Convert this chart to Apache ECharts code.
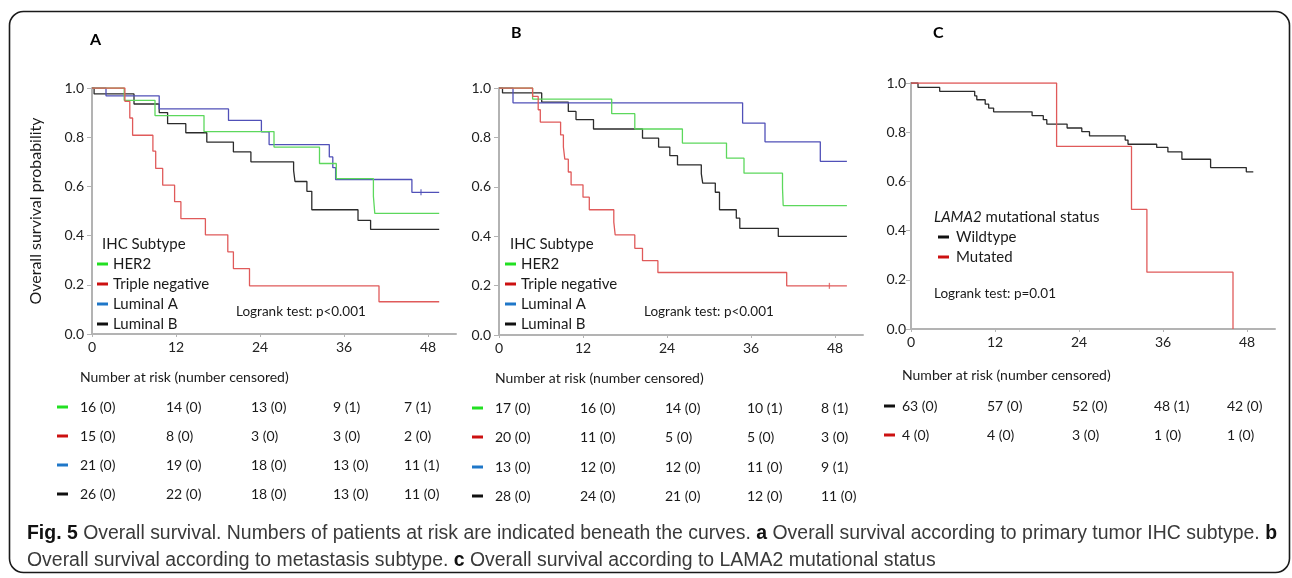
<!DOCTYPE html>
<html><head><meta charset="utf-8">
<script src="https://cdn.jsdelivr.net/npm/echarts@6/dist/echarts.min.js"></script>
<style>html,body{margin:0;padding:0;background:#fff}#c{width:1292px;height:578px}</style>
</head><body><div id="c"></div>
<script>
// ---------- DATA ----------
const tickMonths = [0, 12, 24, 36, 48];
// Panel A – primary tumor IHC subtype  [month, survival]
const aHER2 = [[0,1],[4.6,0.95],[9.0,0.888],[16.0,0.823],[26.0,0.76],[32.5,0.693],[34.9,0.632],[40.2,0.56],[40.4,0.49],[49.6,0.49]];
const aTripleNeg = [[0,1],[4.7,0.946],[5.4,0.878],[5.8,0.808],[8.7,0.743],[9.1,0.673],[10.1,0.605],[11.8,0.538],[12.7,0.469],[16.2,0.403],[19.4,0.334],[20.2,0.266],[22.5,0.196],[41.0,0.131],[49.6,0.131]];
const aLumA = [[0,1],[2.0,0.968],[9.6,0.915],[19.5,0.868],[24.2,0.822],[25.3,0.77],[33.9,0.72],[34.4,0.676],[34.8,0.628],[45.7,0.576],[49.6,0.576]];
const aLumB = [[0,1],[0.3,0.976],[6.0,0.935],[9.6,0.90],[10.8,0.855],[13.4,0.818],[16.4,0.78],[20.2,0.74],[22.7,0.70],[28.8,0.665],[29.0,0.62],[30.7,0.58],[31.4,0.505],[38.0,0.462],[39.8,0.425],[49.6,0.425]];
const aLumACensored = [[47.0,0.576]];
// Panel B – metastasis subtype
const bHER2 = [[0,1],[4.8,0.955],[16.1,0.896],[19.4,0.834],[26.2,0.777],[32.5,0.716],[35.0,0.655],[40.5,0.595],[40.6,0.524],[49.7,0.524]];
const bTripleNeg = [[0,1],[4.8,0.966],[5.6,0.912],[5.9,0.862],[8.8,0.81],[9.2,0.761],[9.4,0.712],[9.9,0.66],[10.3,0.608],[12.0,0.558],[12.9,0.507],[16.4,0.457],[16.6,0.405],[19.4,0.351],[20.5,0.301],[22.7,0.253],[41.1,0.199],[49.7,0.199]];
const bLumA = [[0,1],[2.0,0.94],[34.8,0.858],[38.0,0.782],[45.9,0.703],[49.7,0.703]];
const bLumB = [[0,1],[0.5,0.98],[6.1,0.943],[9.9,0.905],[11.0,0.872],[13.5,0.834],[20.5,0.797],[22.8,0.761],[24.4,0.726],[25.5,0.689],[28.9,0.653],[29.1,0.615],[30.9,0.578],[31.5,0.507],[33.9,0.473],[34.4,0.432],[39.9,0.399],[49.7,0.399]];
const bTripleNegCensored = [[47.2,0.199]];
// Panel C – LAMA2 mutational status
const cWildtype = [[0,1],[1.0,0.982],[4.1,0.966],[9.1,0.948],[9.4,0.932],[10.6,0.914],[11.1,0.898],[11.8,0.883],[17.3,0.867],[18.9,0.851],[19.4,0.833],[22.3,0.817],[24.4,0.802],[25.5,0.785],[30.6,0.768],[31.0,0.751],[35.1,0.738],[36.7,0.72],[38.7,0.69],[42.8,0.656],[47.9,0.639],[48.9,0.639]];
const cMutated = [[0,1],[20.8,0.742],[31.5,0.486],[33.7,0.231],[46.0,0]];

// Number at risk (number censored)
const riskA_HER2 = ['16 (0)','14 (0)','13 (0)','9 (1)','7 (1)'];
const riskA_TN   = ['15 (0)','8 (0)','3 (0)','3 (0)','2 (0)'];
const riskA_LumA = ['21 (0)','19 (0)','18 (0)','13 (0)','11 (1)'];
const riskA_LumB = ['26 (0)','22 (0)','18 (0)','13 (0)','11 (0)'];
const riskB_HER2 = ['17 (0)','16 (0)','14 (0)','10 (1)','8 (1)'];
const riskB_TN   = ['20 (0)','11 (0)','5 (0)','5 (0)','3 (0)'];
const riskB_LumA = ['13 (0)','12 (0)','12 (0)','11 (0)','9 (1)'];
const riskB_LumB = ['28 (0)','24 (0)','21 (0)','12 (0)','11 (0)'];
const riskC_Wild = ['63 (0)','57 (0)','52 (0)','48 (1)','42 (0)'];
const riskC_Mut  = ['4 (0)','4 (0)','3 (0)','1 (0)','1 (0)'];

const ihcLabels = ['HER2','Triple negative','Luminal A','Luminal B'];
const lamaLabels = ['Wildtype','Mutated'];

// ---------- STYLE ----------
const F = 'Lato, "Liberation Sans", sans-serif';
const curveCol = {g:'#5cd85c', r:'#e05a5a', b:'#5050b8', k:'#2b2b2b'};
const legCol = {g:'#22e022', r:'#cc1111', b:'#1f77c8', k:'#111111'};
const AX = '#b3b3b3';

const chart = echarts.init(document.getElementById('c'));

function xAx(i){ return {
  gridIndex:i, type:'value', min:0, max:52, interval:12,
  axisLine:{lineStyle:{color:AX,width:2}},
  axisTick:{show:true,length:3,lineStyle:{color:AX},customValues:tickMonths},
  axisLabel:{color:'#222',fontSize:14,fontFamily:F,margin:6,customValues:tickMonths},
  splitLine:{show:false}
};}
function yAx(i, extra){ return Object.assign({
  gridIndex:i, type:'value', min:0, max:1, interval:0.2,
  axisLine:{show:true,lineStyle:{color:AX,width:2}},
  axisTick:{show:true,length:5,lineStyle:{color:AX}},
  axisLabel:{color:'#222',fontSize:14,fontFamily:F,margin:8,formatter:v=>v.toFixed(1)},
  splitLine:{show:false}
}, extra||{});}
function km(i, data, color){ return {
  type:'line', step:'end', xAxisIndex:i, yAxisIndex:i, data:data, symbol:'none',
  lineStyle:{color:color,width:1.3}, silent:true, animation:false
};}
function cens(i, data, color){ return {
  type:'scatter', xAxisIndex:i, yAxisIndex:i, data:data, symbol:'rect', symbolSize:[1.3,6],
  itemStyle:{color:color}, silent:true, animation:false
};}

// ---------- GRAPHICS (legends, tables, labels, caption) ----------
const G = [];
function txt(x, y, text, opt){ G.push(Object.assign({type:'text', x:x, y:y, silent:true,
  style:Object.assign({text:text, fill:'#1a1a1a', font:'14px '+F, verticalAlign:'middle', align:'left'}, opt||{})})); }
function dash(x, y, color){ G.push({type:'rect', silent:true, shape:{x:x, y:y-1.5, width:11, height:3}, style:{fill:color}}); }

G.push({type:'rect', silent:true, shape:{x:9.5, y:11.5, width:1280, height:561, r:14}, style:{fill:'none', stroke:'#1a1a1a', lineWidth:1.6}});
txt(90, 40, 'A', {font:'bold 16px '+F, fill:'#000'});
txt(511, 33, 'B', {font:'bold 16px '+F, fill:'#000'});
txt(933, 33, 'C', {font:'bold 16px '+F, fill:'#000'});

// legends
const colKeys = ['g','r','b','k'];
txt(102, 244, 'IHC Subtype', {font:'15px '+F});
ihcLabels.forEach((l,k)=>{ dash(97, 264+k*20, legCol[colKeys[k]]); txt(113, 264+k*20, l, {font:'15px '+F}); });
txt(236, 312, 'Logrank test: p<0.001', {font:'13.5px '+F});
txt(510, 244, 'IHC Subtype', {font:'15px '+F});
ihcLabels.forEach((l,k)=>{ dash(505, 264+k*20, legCol[colKeys[k]]); txt(521, 264+k*20, l, {font:'15px '+F}); });
txt(644, 312, 'Logrank test: p<0.001', {font:'13.5px '+F});
txt(934, 217, '{i|LAMA2} mutational status', {font:'15px '+F, rich:{i:{font:'italic 15px '+F, fill:'#1a1a1a'}}});
dash(938, 237, legCol.k); txt(956, 237, lamaLabels[0], {font:'15px '+F});
dash(938, 257, legCol.r); txt(956, 257, lamaLabels[1], {font:'15px '+F});
txt(934, 294, 'Logrank test: p=0.01', {font:'13.5px '+F});

// risk tables
function table(x0, cols, dashX, headY, rowY, rows){
  txt(x0, headY, 'Number at risk (number censored)', {font:'14px '+F});
  rows.forEach((r,k)=>{
    dash(dashX, rowY[k], r[1]);
    r[0].forEach((v,j)=> txt(cols[j], rowY[k], v, {font:'14px '+F}));
  });
}
table(80, [80,166,251,333,404], 57, 377, [407,436,465,494],
  [[riskA_HER2,legCol.g],[riskA_TN,legCol.r],[riskA_LumA,legCol.b],[riskA_LumB,legCol.k]]);
table(495, [495,580,665,747,821], 472, 378, [408,437,467,496],
  [[riskB_HER2,legCol.g],[riskB_TN,legCol.r],[riskB_LumA,legCol.b],[riskB_LumB,legCol.k]]);
table(902, [902,987,1072,1154,1227], 884, 375, [406,435],
  [[riskC_Wild,legCol.k],[riskC_Mut,legCol.r]]);

// caption (fit to measured width, condensed via scaleX)
const capFont = '20px "Liberation Sans", sans-serif';
const capBold = 'bold 20px "Liberation Sans", sans-serif';
const cap1 = [['b','Fig. 5'],['n',' Overall survival. Numbers of patients at risk are indicated beneath the curves. '],['b','a'],['n',' Overall survival according to primary tumor IHC subtype. '],['b','b']];
const cap2 = [['n','Overall survival according to metastasis subtype. '],['b','c'],['n',' Overall survival according to LAMA2 mutational status']];
const ctx = document.createElement('canvas').getContext('2d');
function w(parts){ return parts.reduce((s,p)=>{ ctx.font = p[0]==='b'?capBold:capFont; return s+ctx.measureText(p[1]).width; },0); }
const sx = 1250 / w(cap1);
function capLine(parts, y){
  G.push({type:'text', x:27, y:y, scaleX:sx, silent:true, style:{
    text: parts.map(p=>p[0]==='b'?'{b|'+p[1]+'}':p[1]).join(''),
    font:capFont, fill:'#3a3a3a', verticalAlign:'middle', align:'left',
    rich:{b:{font:capBold, fill:'#111'}}
  }});
}
capLine(cap1, 533);
capLine(cap2, 560);

chart.setOption({
  animation:false,
  backgroundColor:'#fff',
  grid:[
    {left:92, top:88, width:364, height:246},
    {left:499, top:88, width:364, height:247},
    {left:911, top:83, width:364, height:246}
  ],
  xAxis:[xAx(0), xAx(1), xAx(2)],
  yAxis:[
    yAx(0,{name:'Overall survival probability', nameLocation:'middle', nameRotate:90, nameGap:48,
      nameTextStyle:{fontSize:16, fontFamily:F, color:'#1a1a1a'}}),
    yAx(1), yAx(2,{axisLabel:{color:'#222',fontSize:14,fontFamily:F,margin:5,formatter:v=>v.toFixed(1)}})
  ],
  series:[
    km(0,aLumB,curveCol.k), km(0,aLumA,curveCol.b), km(0,aHER2,curveCol.g), km(0,aTripleNeg,curveCol.r),
    cens(0,aLumACensored,curveCol.b),
    km(1,bLumB,curveCol.k), km(1,bLumA,curveCol.b), km(1,bHER2,curveCol.g), km(1,bTripleNeg,curveCol.r),
    cens(1,bTripleNegCensored,curveCol.r),
    km(2,cWildtype,curveCol.k), km(2,cMutated,curveCol.r)
  ],
  graphic:G
});
</script></body></html>
